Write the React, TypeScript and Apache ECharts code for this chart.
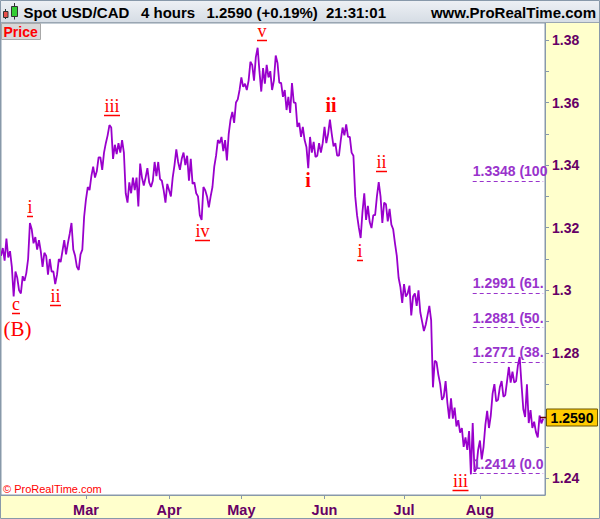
import React, { useEffect, useRef } from 'react';
import * as echarts from 'echarts';

// ---- Data (USD/CAD, 4-hour chart read as two swings per trading day) ----
const janPrices = [1.3110, 1.3135, 1.3095, 1.3165, 1.3105, 1.3125, 1.3075];
const febPrices = [
  1.2980, 1.3060, 1.3040, 1.3000, 1.2990, 1.3045, 1.3030, 1.3055, 1.3100, 1.3215,
  1.3195, 1.3150, 1.3170, 1.3130, 1.3160, 1.3125, 1.3075, 1.3120, 1.3110, 1.3050,
  1.3100, 1.3060, 1.3060, 1.3020, 1.3050, 1.3100, 1.3090, 1.3125, 1.3160, 1.3115,
  1.3150, 1.3180, 1.3215, 1.3130, 1.3110, 1.3075, 1.3065, 1.3115, 1.3130, 1.3235,
];
const marPrices = [
  1.3290, 1.3330, 1.3320, 1.3365, 1.3395, 1.3360, 1.3380, 1.3425, 1.3425, 1.3385,
  1.3440, 1.3470, 1.3495, 1.3528, 1.3520, 1.3420, 1.3465, 1.3435, 1.3470, 1.3440,
  1.3480, 1.3440, 1.3310, 1.3280, 1.3345, 1.3310, 1.3360, 1.3320, 1.3360, 1.3268,
  1.3405, 1.3360, 1.3335, 1.3360, 1.3390, 1.3345, 1.3330, 1.3350, 1.3410, 1.3365,
  1.3410, 1.3355, 1.3350, 1.3320, 1.3280, 1.3340,
];
const aprPrices = [
  1.3320, 1.3300, 1.3360, 1.3400, 1.3450, 1.3410, 1.3385, 1.3420, 1.3440, 1.3400,
  1.3430, 1.3350, 1.3420, 1.3340, 1.3345, 1.3310, 1.3300, 1.3240, 1.3225, 1.3330,
  1.3320, 1.3300, 1.3265, 1.3300, 1.3330, 1.3395, 1.3430, 1.3480, 1.3470, 1.3490,
  1.3445, 1.3480, 1.3415, 1.3500, 1.3545, 1.3570, 1.3535, 1.3600, 1.3610, 1.3640,
];
const mayPrices = [
  1.3680, 1.3650, 1.3660, 1.3640, 1.3670, 1.3730, 1.3720, 1.3670, 1.3745, 1.3775,
  1.3700, 1.3635, 1.3710, 1.3660, 1.3720, 1.3680, 1.3700, 1.3640, 1.3670, 1.3750,
  1.3726, 1.3663, 1.3663, 1.3618, 1.3640, 1.3576, 1.3618, 1.3567, 1.3662, 1.3600,
  1.3599, 1.3522, 1.3535, 1.3490, 1.3522, 1.3480, 1.3458, 1.3390, 1.3490, 1.3440,
  1.3474, 1.3426, 1.3430, 1.3470, 1.3440, 1.3470,
];
const junPrices = [
  1.3522, 1.3470, 1.3500, 1.3545, 1.3500, 1.3460, 1.3470, 1.3430, 1.3430, 1.3480,
  1.3520, 1.3495, 1.3530, 1.3490, 1.3490, 1.3440, 1.3430, 1.3300, 1.3240, 1.3200,
  1.3167, 1.3250, 1.3310, 1.3225, 1.3270, 1.3218, 1.3199, 1.3240, 1.3240, 1.3300,
  1.3346, 1.3300, 1.3215, 1.3280, 1.3275, 1.3220, 1.3260, 1.3210, 1.3195, 1.3150,
  1.3110, 1.3040, 1.3010, 1.2960,
];
const julPrices = [
  1.3020, 1.2980, 1.2990, 1.3015, 1.2920, 1.2980, 1.2990, 1.2950, 1.3000, 1.2930,
  1.2900, 1.2870, 1.2890, 1.2920, 1.2950, 1.2905, 1.2690, 1.2775, 1.2770, 1.2730,
  1.2700, 1.2650, 1.2660, 1.2710, 1.2640, 1.2590, 1.2655, 1.2590, 1.2625, 1.2565,
  1.2585, 1.2545, 1.2560, 1.2500, 1.2530, 1.2490, 1.2550, 1.2412, 1.2576, 1.2420,
  1.2430, 1.2490,
];
const augPrices = [
  1.2520, 1.2460, 1.2500, 1.2570, 1.2615, 1.2560, 1.2600, 1.2670, 1.2700, 1.2645,
  1.2650, 1.2690, 1.2710, 1.2660, 1.2665, 1.2710, 1.2755, 1.2705, 1.2740, 1.2705,
  1.2710, 1.2760, 1.2787, 1.2700, 1.2620, 1.2595, 1.2700, 1.2576, 1.2617, 1.2560,
  1.2580, 1.2547, 1.2530, 1.2600, 1.2575, 1.2590,
];

const lastPrice = 1.2590;
const monthTickLabels: Record<string, string> = {
  '03': 'Mar', '04': 'Apr', '05': 'May', '06': 'Jun', '07': 'Jul', '08': 'Aug',
};
const yTickValues = [1.24, 1.25, 1.26, 1.27, 1.28, 1.29, 1.3, 1.31, 1.32, 1.33, 1.34, 1.35, 1.36, 1.37, 1.38];
// 1.26 is hidden behind the last-price tag in the reference
const yLabelValues = [1.24, 1.28, 1.3, 1.32, 1.34, 1.36, 1.38];

const fibLevels = [1.3348, 1.2991, 1.2881, 1.2771, 1.2414];
const fibPercents = ['100.0%', '61.8%', '50.0%', '38.2%', '0.0%'];
const fibStartCat = '2017-07-28 00:00';
const fibEndCat = '2017-08-24 12:00';

// Elliott-wave annotations (pixel placement in the 600x519 picture)
const waveLabels = [
  { text: 'c', x: 16, base: 310, size: 18, bold: false, ul: 8 },
  { text: '(B)', x: 17.5, base: 336, size: 21, bold: false, ul: 0 },
  { text: 'i', x: 30, base: 213, size: 18, bold: false, ul: 6 },
  { text: 'ii', x: 55.5, base: 302, size: 18, bold: false, ul: 11 },
  { text: 'iii', x: 112, base: 112, size: 18, bold: false, ul: 16 },
  { text: 'iv', x: 202.5, base: 237, size: 18, bold: false, ul: 15 },
  { text: 'v', x: 262, base: 37, size: 18, bold: false, ul: 10 },
  { text: 'ii', x: 331, base: 112, size: 20, bold: true, ul: 0 },
  { text: 'i', x: 308, base: 187, size: 20, bold: true, ul: 0 },
  { text: 'ii', x: 381.5, base: 168, size: 18, bold: false, ul: 11 },
  { text: 'i', x: 360, base: 257, size: 18, bold: false, ul: 6 },
  { text: 'iii', x: 460.5, base: 487, size: 18, bold: false, ul: 16 },
];

const CAT_COUNT = 302;

function buildCategories(start: string, count: number): string[] {
  const out: string[] = [];
  const d = new Date(start + 'T00:00:00Z');
  while (out.length < count + 1) {
    const wd = d.getUTCDay();
    if (wd !== 0 && wd !== 6) {
      const s = d.toISOString().slice(0, 10);
      out.push(s + ' 00:00', s + ' 12:00');
    }
    d.setUTCDate(d.getUTCDate() + 1);
  }
  return out.slice(1, count + 1);
}

const AXIS_COLOR = '#660066';
const FIB_COLOR = '#9933cc';
const LINE_COLOR = '#9900cc';
const FONT = 'Arial, "Liberation Sans", sans-serif';
const SERIF = '"Times New Roman", "Liberation Serif", serif';

export default function App() {
  const ref = useRef<HTMLDivElement>(null);

  useEffect(() => {
    if (!ref.current) return;
    const chart = echarts.init(ref.current, undefined, { renderer: 'svg' });

    const categories = buildCategories('2017-01-26', CAT_COUNT);
    const prices: (number | null)[] = [
      ...janPrices, ...febPrices, ...marPrices, ...aprPrices,
      ...mayPrices, ...junPrices, ...julPrices, ...augPrices,
    ];
    while (prices.length < categories.length) prices.push(null);

    const monthStart = new Set<number>();
    for (let i = 2; i < categories.length; i++) {
      const c = categories[i];
      if (c.endsWith('00:00') && c.slice(5, 7) !== categories[i - 2].slice(5, 7) && monthTickLabels[c.slice(5, 7)]) {
        monthStart.add(i);
      }
    }
    const showMonth = (index: number) => monthStart.has(index);

    const option: any = {
      animation: false,
      backgroundColor: '#ffffcc',
      grid: {
        left: 1, right: 55, top: 23, bottom: 24,
        show: true, backgroundColor: '#ffffff', borderColor: '#8899aa', borderWidth: 1,
      },
      xAxis: {
        type: 'category',
        data: categories,
        boundaryGap: false,
        axisLine: { show: true, lineStyle: { color: '#8899aa' } },
        axisTick: { show: true, length: 4, interval: showMonth, lineStyle: { color: '#8899aa' } },
        axisLabel: {
          interval: showMonth,
          formatter: (v: string) => monthTickLabels[v.slice(5, 7)] || '',
          color: AXIS_COLOR, fontWeight: 'bold', fontSize: 14.5, fontFamily: FONT, margin: 7,
        },
        splitLine: { show: false },
      },
      yAxis: {
        type: 'value',
        position: 'right',
        min: 1.2346,
        max: 1.3854,
        axisLine: { show: true, lineStyle: { color: '#8899aa' } },
        axisTick: { show: true, length: 4, customValues: yTickValues, lineStyle: { color: '#8899aa' } },
        axisLabel: {
          customValues: yLabelValues,
          formatter: (v: number) => String(parseFloat(v.toFixed(2))),
          color: AXIS_COLOR, fontWeight: 'bold', fontSize: 14, fontFamily: FONT, margin: 7,
        },
        splitLine: { show: false },
      },
      series: [
        {
          type: 'line',
          data: prices,
          showSymbol: false,
          connectNulls: false,
          lineStyle: { color: LINE_COLOR, width: 1.8 },
          itemStyle: { color: LINE_COLOR },
          markLine: {
            silent: true,
            symbol: ['none', 'none'],
            lineStyle: { color: FIB_COLOR, type: [4, 3], width: 1 },
            label: {
              show: true,
              position: 'insideStartTop',
              distance: [0, 3],
              color: FIB_COLOR,
              fontWeight: 'bold',
              fontSize: 14,
              fontFamily: FONT,
              width: 76,
              overflow: 'truncate',
              ellipsis: '',
            },
            data: fibLevels.map((lv, i) => [
              {
                coord: [fibStartCat, lv],
                label: {
                  formatter: lv.toFixed(4) + ' (' + fibPercents[i] + ')',
                  width: fibPercents[i] === '0.0%' ? 82 : 76,
                },
              },
              { coord: [fibEndCat, lv] },
            ]),
          },
        },
      ],
    };
    chart.setOption(option);

    const py = chart.convertToPixel({ yAxisIndex: 0 } as any, lastPrice) as number;
    const tagY = Math.round(py) - 2;

    const graphics: any[] = [
      {
        type: 'rect', z: 100,
        shape: { x: 0, y: 0, width: 600, height: 22 },
        style: {
          fill: new echarts.graphic.LinearGradient(0, 0, 0, 1, [
            { offset: 0, color: '#eef1f5' }, { offset: 1, color: '#d6dde5' },
          ]),
        },
      },
      { type: 'line', z: 101, shape: { x1: 0, y1: 22.5, x2: 600, y2: 22.5 }, style: { stroke: '#9aa6b2', lineWidth: 1 } },
      // candle icon
      { type: 'line', z: 101, shape: { x1: 5.5, y1: 9, x2: 5.5, y2: 19 }, style: { stroke: '#333', lineWidth: 1 } },
      { type: 'rect', z: 102, shape: { x: 3.5, y: 11.5, width: 4.5, height: 6 }, style: { fill: '#e8504a', stroke: '#333', lineWidth: 1 } },
      { type: 'line', z: 101, shape: { x1: 14.5, y1: 3, x2: 14.5, y2: 19.5 }, style: { stroke: '#333', lineWidth: 1 } },
      { type: 'rect', z: 102, shape: { x: 11.5, y: 6.5, width: 6, height: 10 }, style: { fill: '#33cc33', stroke: '#333', lineWidth: 1 } },
      // header texts
      { type: 'text', z: 103, x: 23.5, y: 12, style: { text: 'Spot USD/CAD', fill: '#000', font: 'bold 15px ' + FONT, verticalAlign: 'middle' } },
      { type: 'text', z: 103, x: 141, y: 12, style: { text: '4 hours', fill: '#000', font: 'bold 15px ' + FONT, verticalAlign: 'middle' } },
      { type: 'text', z: 103, x: 206.5, y: 12, style: { text: '1.2590 (+0.19%)', fill: '#000', font: 'bold 15px ' + FONT, verticalAlign: 'middle' } },
      { type: 'text', z: 103, x: 326, y: 12, style: { text: '21:31:01', fill: '#000', font: 'bold 15px ' + FONT, verticalAlign: 'middle' } },
      { type: 'text', z: 103, x: 596, y: 12, style: { text: 'www.ProRealTime.com', fill: '#000', font: 'bold 15px ' + FONT, align: 'right', verticalAlign: 'middle' } },
      // Price tag
      { type: 'rect', z: 103, shape: { x: 1.5, y: 23.5, width: 39, height: 16 }, style: { fill: '#d8d8d8', stroke: '#a8a8a8', lineWidth: 1 } },
      { type: 'text', z: 104, x: 3.5, y: 32, style: { text: 'Price', fill: '#ff0000', font: 'bold 14px ' + FONT, verticalAlign: 'middle' } },
      // copyright
      { type: 'text', z: 103, x: 3, y: 489, style: { text: '© ProRealTime.com', fill: '#ff0000', font: '11px ' + FONT, verticalAlign: 'middle' } },
      // last price tag
      { type: 'line', z: 103, shape: { x1: 540, y1: tagY + 0.5, x2: 547, y2: tagY + 0.5 }, style: { stroke: '#660000', lineWidth: 1.5 } },
      { type: 'rect', z: 104, shape: { x: 546.5, y: tagY - 8, width: 51, height: 17 }, style: { fill: '#ffcc00', stroke: '#6b5500', lineWidth: 1 } },
      { type: 'text', z: 105, x: 572, y: tagY + 0.5, style: { text: '1.2590', fill: '#000', font: 'bold 14px ' + FONT, align: 'center', verticalAlign: 'middle' } },
      // outer frame
      { type: 'rect', z: 106, shape: { x: 0.5, y: 0.5, width: 599, height: 518 }, style: { fill: 'none', stroke: '#8899aa', lineWidth: 1 } },
    ];

    waveLabels.forEach((w) => {
      graphics.push({
        type: 'text', z: 90,
        x: w.x, y: w.base - 0.34 * w.size,
        style: {
          text: w.text, fill: '#ff0000',
          font: (w.bold ? 'bold ' : '') + w.size + 'px ' + SERIF,
          align: 'center', verticalAlign: 'middle',
        },
      });
      if (w.ul > 0) {
        graphics.push({
          type: 'line', z: 90,
          shape: { x1: w.x - w.ul / 2, y1: w.base + 3.5, x2: w.x + w.ul / 2, y2: w.base + 3.5 },
          style: { stroke: '#ff0000', lineWidth: 1.5 },
        });
      }
    });

    chart.setOption({ graphic: graphics });

    return () => chart.dispose();
  }, []);

  return (
    <div
      ref={ref}
      style={{ position: 'fixed', left: 0, top: 0, width: 600, height: 519 }}
    />
  );
}
